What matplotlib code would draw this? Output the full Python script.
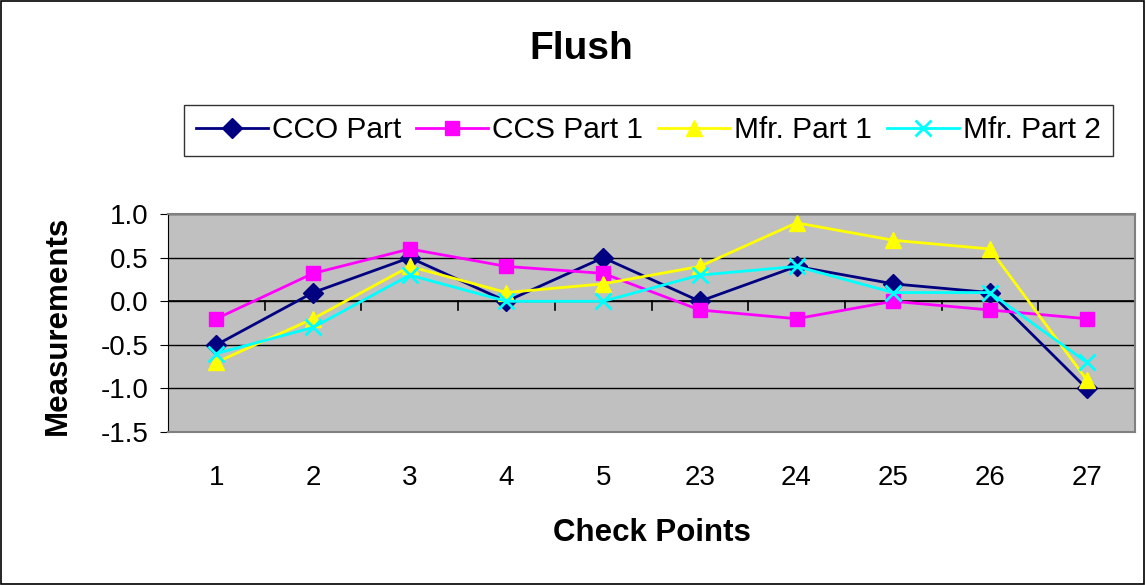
import matplotlib
matplotlib.use("Agg")
import matplotlib.pyplot as plt
import numpy as np

plt.rcParams['font.family'] = ['Liberation Sans', 'DejaVu Sans']

categories = ["1", "2", "3", "4", "5", "23", "24", "25", "26", "27"]
cco_part = [-0.5, 0.1, 0.5, 0.0, 0.5, 0.0, 0.4, 0.2, 0.1, -1.0]
ccs_part1 = [-0.2, 0.32, 0.6, 0.4, 0.32, -0.1, -0.2, 0.0, -0.1, -0.2]
mfr_part1 = [-0.7, -0.2, 0.4, 0.1, 0.2, 0.4, 0.9, 0.7, 0.6, -0.9]
mfr_part2 = [-0.6, -0.3, 0.3, 0.0, 0.0, 0.3, 0.4, 0.1, 0.1, -0.7]
y_ticks = [-1.5, -1.0, -0.5, 0.0, 0.5, 1.0]

fig = plt.figure(figsize=(11.46, 5.85), dpi=100)
fig.patches.append(plt.Rectangle((0.001, 0.002), 0.997, 0.996, transform=fig.transFigure,
                                 fill=False, edgecolor='black', linewidth=1.2))
ax = fig.add_axes([0.1466, 0.2615, 0.8438, 0.3725])
ax.set_facecolor('#C0C0C0')

x = np.arange(len(categories))
series = [
    (cco_part, 'CCO Part', '#000080', 'D', 10, {}),
    (ccs_part1, 'CCS Part 1', '#FF00FF', 's', 10, {}),
    (mfr_part1, 'Mfr. Part 1', '#FFFF00', '^', 12, {}),
    (mfr_part2, 'Mfr. Part 2', '#00FFFF', 'x', 12, {'markeredgewidth': 2}),
]
for vals, lab, col, mk, ms, kw in series:
    ax.plot(x, vals, color=col, marker=mk, markersize=ms, linewidth=2,
            markerfacecolor=col, markeredgecolor=col, label=lab, **kw)

ax.set_xlim(-0.5, len(categories) - 0.5)
ax.set_ylim(-1.5, 1.0)
ax.set_yticks(y_ticks)
ax.set_yticklabels([f"{v:.1f}" for v in y_ticks], fontsize=20)
ax.yaxis.grid(True, color='black', linewidth=1)
ax.set_axisbelow(True)
ax.set_xticks(x)
ax.set_xticklabels(categories, fontsize=20)
ax.tick_params(axis='x', length=0, pad=24)
ax.tick_params(axis='y', length=6, direction='out', pad=8)
# category boundary ticks on the zero line
ax.axhline(0, color='black', linewidth=1.2, zorder=1.5)
for b in np.arange(-0.5, len(categories), 1.0):
    ax.plot([b, b], [0, -0.1], color='black', linewidth=1.2, zorder=1.5)
for s in ['top', 'right', 'bottom']:
    ax.spines[s].set_color('#808080')
    ax.spines[s].set_linewidth(1.5)
ax.spines['left'].set_color('black')

ax.set_ylabel('Measurements', fontsize=22.5, fontweight='bold', va='center')
ax.yaxis.set_label_coords(-0.1138, 0.49)
ax.set_xlabel('Check Points', fontsize=22.5, fontweight='bold', va='center')
ax.xaxis.set_label_coords(0.5, -0.463)
fig.text(0.507, 0.916, 'Flush', fontsize=28, fontweight='bold', ha='center', va='center')

leg = fig.legend(loc='center', bbox_to_anchor=(0.566, 0.777), ncol=4, fontsize=21.5,
                 frameon=True, fancybox=False, edgecolor='black', handlelength=2.4,
                 columnspacing=0.5, handletextpad=0.15, borderpad=0.4)
leg.get_frame().set_linewidth(1.0)

fig.savefig('out.png', dpi=100)
